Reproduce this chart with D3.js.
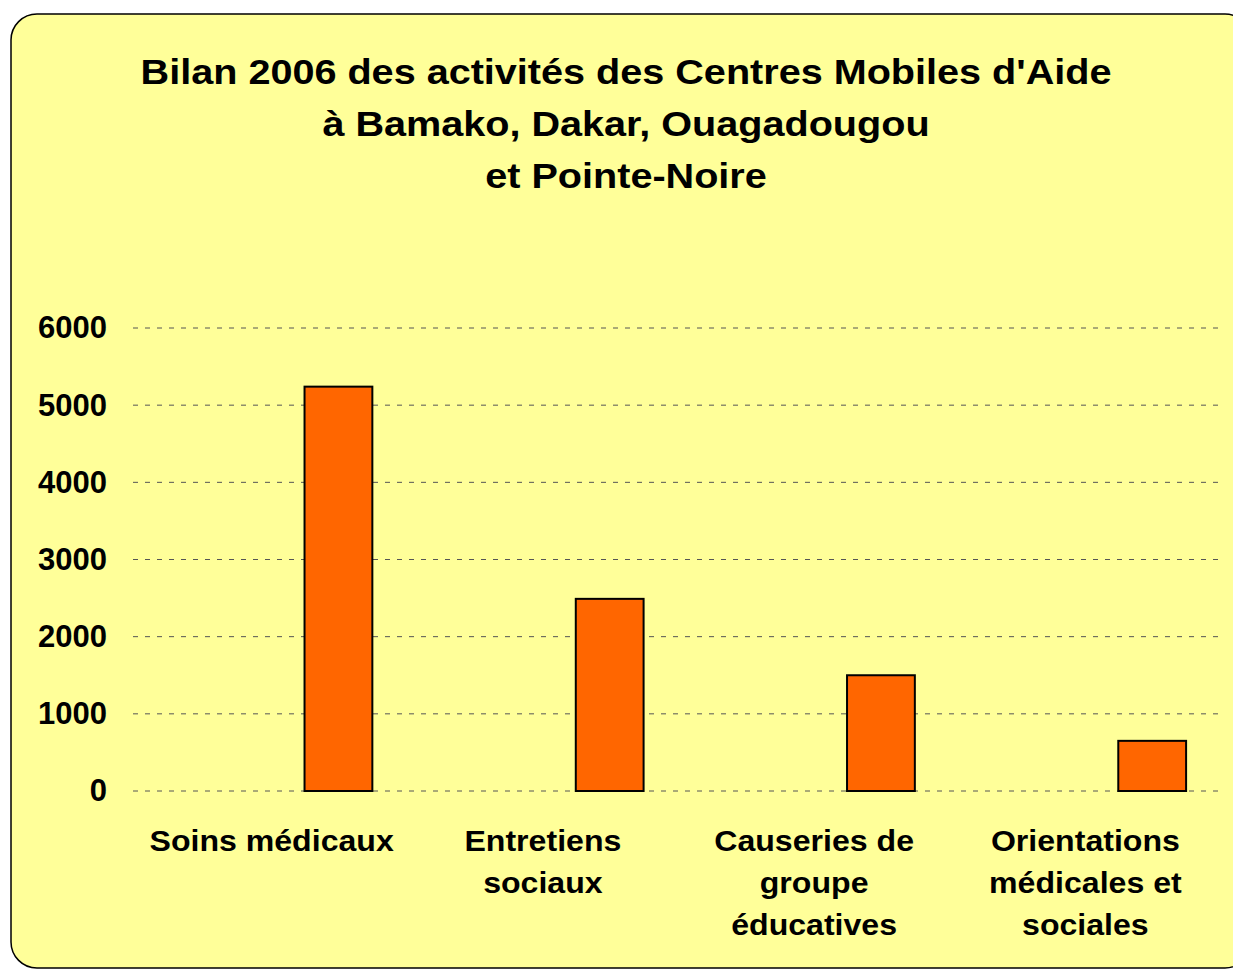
<!DOCTYPE html>
<html lang="fr">
<head>
<meta charset="utf-8">
<script src="https://cdn.jsdelivr.net/npm/d3@7"></script>
<style>
  html, body { margin: 0; padding: 0; background: #fff; }
  svg { display: block; font-family: "Liberation Sans", Arial, sans-serif; }
</style>
</head>
<body>
<div id="chart"></div>
<script>
// Chart data
const titleLines = [
  "Bilan 2006 des activités des Centres Mobiles d'Aide",
  'à Bamako, Dakar, Ouagadougou',
  'et Pointe-Noire',
];
const categories = [
  ['Soins médicaux'],
  ['Entretiens', 'sociaux'],
  ['Causeries de', 'groupe', 'éducatives'],
  ['Orientations', 'médicales et', 'sociales'],
];
const values = [5240, 2490, 1500, 650];
const yTicks = [0, 1000, 2000, 3000, 4000, 5000, 6000];

const width = 1233;
const height = 969;
const margin = { top: 328, right: 13, bottom: 178, left: 135 };

const svg = d3.select('#chart').append('svg').attr('width', width).attr('height', height);

// Rounded chart-area frame
svg.append('rect')
  .attr('x', 11).attr('y', 14)
  .attr('width', 1240).attr('height', 954)
  .attr('rx', 26).attr('ry', 26)
  .attr('fill', '#ffff99')
  .attr('stroke', '#000')
  .attr('stroke-width', 1.5);

// Title (original font renders a bit wider than Liberation Sans)
svg.append('g')
  .attr('transform', 'translate(626,0) scale(1.1,1)')
  .append('text')
  .attr('text-anchor', 'middle')
  .attr('font-size', 36)
  .attr('font-weight', 'bold')
  .selectAll('tspan')
  .data(titleLines)
  .join('tspan')
  .attr('x', 0)
  .attr('y', (d, i) => 84 + i * 52)
  .text((d) => d);

const x = d3.scaleBand()
  .domain(d3.range(categories.length))
  .range([margin.left, width - margin.right])
  .paddingInner(0)
  .paddingOuter(0);

// three series slots per category (Excel clustered layout), only the last one is filled
const slot = d3.scaleBand()
  .domain([0, 1, 2])
  .range([0, x.bandwidth()])
  .paddingInner(0)
  .paddingOuter(0.5);

const y = d3.scaleLinear().domain([0, 6000]).range([height - margin.bottom, margin.top]);

// Gridlines
svg.append('g')
  .selectAll('line')
  .data(yTicks)
  .join('line')
  .attr('x1', margin.left - 2)
  .attr('x2', width - margin.right - 2)
  .attr('y1', (d) => y(d))
  .attr('y2', (d) => y(d))
  .attr('stroke', '#555')
  .attr('stroke-width', 1)
  .attr('stroke-dasharray', '5,7');

// Y axis labels
svg.append('g')
  .attr('transform', `translate(${margin.left},0)`)
  .call(d3.axisLeft(y).tickValues(yTicks).tickSize(0).tickPadding(28).tickFormat(d3.format('d')))
  .call((g) => g.select('.domain').remove())
  .selectAll('text')
  .attr('font-family', '"Liberation Sans", Arial, sans-serif')
  .attr('font-size', 31)
  .attr('font-weight', 'bold')
  .attr('fill', '#000');

// Bars
svg.append('g')
  .selectAll('rect')
  .data(values)
  .join('rect')
  .attr('x', (d, i) => x(i) + slot(2))
  .attr('y', (d) => y(d))
  .attr('width', slot.bandwidth())
  .attr('height', (d) => y(0) - y(d))
  .attr('fill', '#ff6600')
  .attr('stroke', '#000')
  .attr('stroke-width', 2);

// Category labels
const cat = svg.append('g')
  .selectAll('g')
  .data(categories)
  .join('g')
  .attr('transform', (d, i) => `translate(${x(i) + x.bandwidth() / 2 + 1},0) scale(1.07,1)`)
  .append('text')
  .attr('text-anchor', 'middle')
  .attr('font-size', 30)
  .attr('font-weight', 'bold');

cat.selectAll('tspan')
  .data((d) => d)
  .join('tspan')
  .attr('x', 0)
  .attr('y', (d, j) => 851 + j * 42)
  .text((d) => d);
</script>
</body>
</html>
